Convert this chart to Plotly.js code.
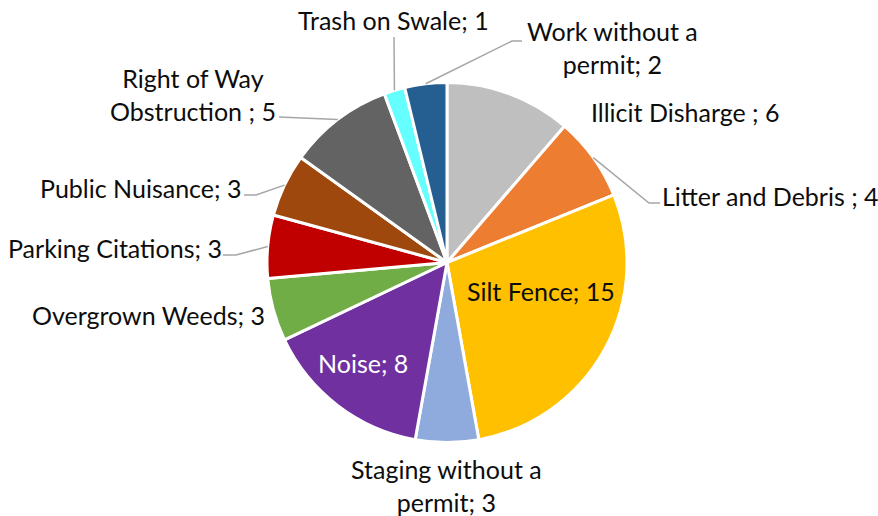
<!DOCTYPE html>
<html>
<head>
<meta charset="utf-8">
<script src="https://cdn.plot.ly/plotly-3.0.1.min.js"></script>
<style>
html,body{margin:0;padding:0;background:#fff;}
#chart{width:878px;height:516px;}
</style>
</head>
<body>
<div id="chart"></div>
<script>
// ---- data ----
const categories = ["Illicit Disharge ", "Litter and Debris ", "Silt Fence", "Staging without a permit", "Noise", "Overgrown Weeds", "Parking Citations", "Public Nuisance", "Right of Way Obstruction ", "Trash on Swale", "Work without a permit"];
const values = [6, 4, 15, 3, 8, 3, 3, 3, 5, 1, 2];
const colors = ["#BFBFBF", "#ED7D31", "#FFC000", "#8FAADC", "#7030A0", "#70AD47", "#C00000", "#9E480E", "#636363", "#66FFFF", "#255E91"];

// ---- layout config (pixel space) ----
const W = 878, H = 516;
const CX = 447, CY = 262.5, R = 180;
const FONT = "Lato, 'Open Sans', sans-serif";
const FS = 25;
// label placement: center position, line-break point, text colour, leader-line elbow points
const labelCfg = [
  {x: 685, y: 112},
  {x: 770, y: 196, lead: [[649, 203], [660, 203]]},
  {x: 541, y: 291},
  {x: 446.5, y: 485, br: "Staging without a"},
  {x: 363, y: 363, color: "#FFFFFF"},
  {x: 148.5, y: 315},
  {x: 114.5, y: 248, lead: [[236, 255], [223, 255]]},
  {x: 140, y: 188, lead: [[256, 195], [244, 195]]},
  {x: 193, y: 94, br: "Right of Way", lead: [[279, 117]]},
  {x: 393.7, y: 20, lead: [[394, 37]]},
  {x: 612, y: 48, br: "Work without a", lead: [[512, 41], [522, 41]]}
];

const px = x => x / W;
const py = y => 1 - y / H;

const total = values.reduce((a, b) => a + b, 0);
const annotations = [];
const shapes = [];
let cum = 0;
values.forEach((v, i) => {
  const mid = (cum + v / 2) / total * 2 * Math.PI;
  cum += v;
  const cfg = labelCfg[i];
  let txt = categories[i] + "; " + v;
  if (cfg.br) txt = cfg.br + "<br>" + txt.slice(cfg.br.length).trim();
  annotations.push({
    xref: "paper", yref: "paper", x: px(cfg.x), y: py(cfg.y),
    xanchor: "center", yanchor: "middle", showarrow: false,
    text: txt, align: "center",
    font: {family: FONT, size: FS, color: cfg.color || "#0D0D0D"}
  });
  if (cfg.lead) {
    const sx = CX + R * Math.sin(mid), sy = CY - R * Math.cos(mid);
    let d = "M " + px(sx) + "," + py(sy);
    cfg.lead.forEach(p => { d += " L " + px(p[0]) + "," + py(p[1]); });
    shapes.push({type: "path", xref: "paper", yref: "paper", path: d,
      line: {color: "#A6A6A6", width: 1.5}});
  }
});

const trace = {
  type: "pie",
  labels: categories,
  values: values,
  sort: false,
  direction: "clockwise",
  rotation: 0,
  textinfo: "none",
  hoverinfo: "label+value",
  marker: {colors: colors, line: {color: "#FFFFFF", width: 3}},
  domain: {x: [px(CX - R), px(CX + R)], y: [py(CY + R), py(CY - R)]},
  showlegend: false
};

const layout = {
  width: W, height: H,
  margin: {l: 0, r: 0, t: 0, b: 0},
  paper_bgcolor: "#FFFFFF",
  plot_bgcolor: "#FFFFFF",
  showlegend: false,
  annotations: annotations,
  shapes: shapes
};

Plotly.newPlot("chart", [trace], layout, {displayModeBar: false, staticPlot: true});
</script>
</body>
</html>
